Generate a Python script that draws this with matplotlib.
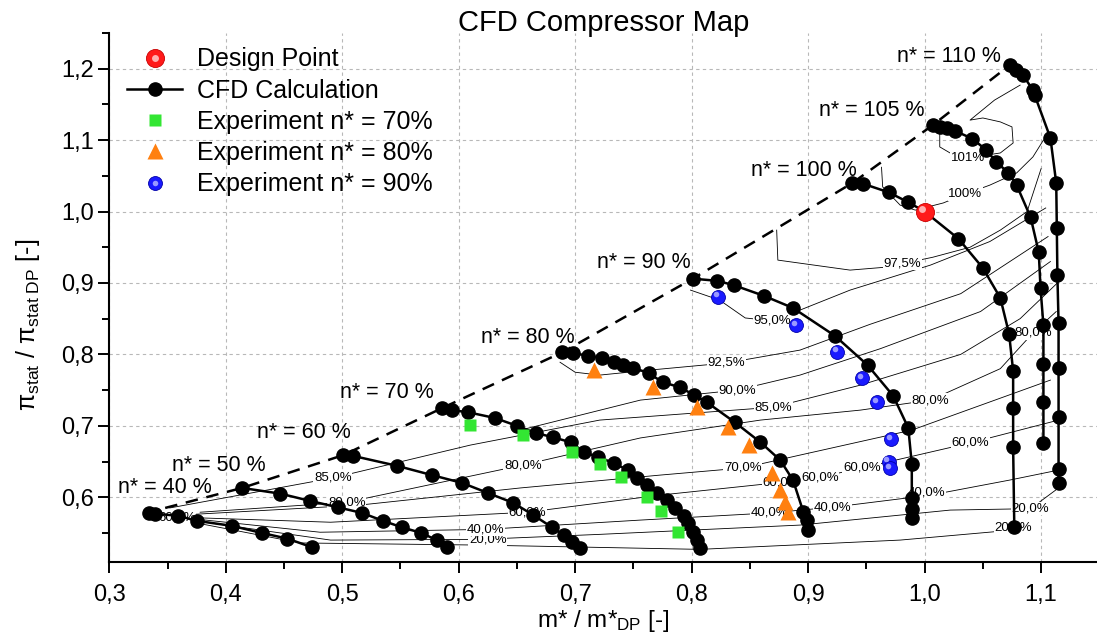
import numpy as np
import matplotlib
matplotlib.use("Agg")
import matplotlib.pyplot as plt
from matplotlib.lines import Line2D
from matplotlib.legend_handler import HandlerTuple
from matplotlib.ticker import FuncFormatter, MultipleLocator
from matplotlib.transforms import offset_copy

plt.rcParams['font.family'] = ['Liberation Sans', 'DejaVu Sans']
plt.rcParams['mathtext.fontset'] = 'custom'
plt.rcParams['mathtext.rm'] = 'Liberation Sans'
plt.rcParams['mathtext.it'] = 'Liberation Sans:italic'

# CFD speed lines (m*/m*_DP, pi/pi_DP)
m_40 = [0.334, 0.339, 0.359, 0.375, 0.405, 0.431, 0.453, 0.474]
pi_40 = [0.578, 0.577, 0.574, 0.567, 0.560, 0.550, 0.542, 0.530]
m_50 = [0.414, 0.447, 0.472, 0.496, 0.517, 0.535, 0.551, 0.568, 0.581, 0.590]
pi_50 = [0.613, 0.605, 0.595, 0.586, 0.578, 0.567, 0.558, 0.550, 0.540, 0.530]
m_60 = [0.501, 0.509, 0.547, 0.577, 0.603, 0.625, 0.647, 0.664, 0.680, 0.690, 0.697, 0.704]
pi_60 = [0.659, 0.658, 0.644, 0.631, 0.620, 0.606, 0.592, 0.575, 0.558, 0.547, 0.537, 0.529]
m_70 = [0.586, 0.594, 0.608, 0.631, 0.650, 0.666, 0.681, 0.696, 0.708, 0.720, 0.733,
        0.745, 0.753, 0.762, 0.770, 0.779, 0.786, 0.793, 0.797, 0.801, 0.805, 0.807]
pi_70 = [0.725, 0.722, 0.719, 0.711, 0.700, 0.690, 0.684, 0.677, 0.663, 0.656, 0.648,
         0.638, 0.627, 0.617, 0.606, 0.596, 0.585, 0.574, 0.564, 0.551, 0.540, 0.529]
m_80 = [0.689, 0.698, 0.711, 0.723, 0.733, 0.741, 0.750, 0.763, 0.775, 0.790, 0.802,
        0.813, 0.837, 0.859, 0.876, 0.887, 0.896, 0.899, 0.900]
pi_80 = [0.803, 0.802, 0.798, 0.795, 0.789, 0.785, 0.781, 0.774, 0.761, 0.754, 0.743,
         0.733, 0.705, 0.677, 0.652, 0.624, 0.579, 0.568, 0.554]
m_90 = [0.801, 0.822, 0.836, 0.862, 0.887, 0.923, 0.951, 0.973, 0.986, 0.989, 0.989, 0.989, 0.989]
pi_90 = [0.906, 0.903, 0.897, 0.882, 0.865, 0.826, 0.785, 0.742, 0.697, 0.6465, 0.599, 0.5835, 0.571]
m_100 = [0.938, 0.947, 0.969, 0.986, 1.000, 1.029, 1.050, 1.065, 1.0725, 1.076, 1.076, 1.076, 1.077]
pi_100 = [1.040, 1.039, 1.027, 1.013, 1.000, 0.962, 0.921, 0.879, 0.829, 0.777, 0.725, 0.670, 0.558]
m_105 = [1.007, 1.013, 1.019, 1.026, 1.041, 1.053, 1.0615, 1.072, 1.079, 1.091, 1.098,
         1.0995, 1.102, 1.102, 1.102, 1.102]
pi_105 = [1.121, 1.1185, 1.117, 1.113, 1.102, 1.086, 1.0695, 1.054, 1.037, 0.992, 0.943,
          0.893, 0.841, 0.787, 0.733, 0.676]
m_110 = [1.073, 1.0785, 1.0845, 1.093, 1.0945, 1.108, 1.113, 1.1135, 1.114, 1.115, 1.115,
         1.115, 1.115, 1.115]
pi_110 = [1.205, 1.198, 1.191, 1.170, 1.163, 1.103, 1.040, 0.977, 0.911, 0.844, 0.781,
          0.712, 0.6395, 0.620]

speed_names = ['n* = 40 %', 'n* = 50 %', 'n* = 60 %', 'n* = 70 %', 'n* = 80 %',
               'n* = 90 %', 'n* = 100 %', 'n* = 105 %', 'n* = 110 %']
speed_lab_m = [0.348, 0.394, 0.467, 0.538, 0.659, 0.759, 0.896, 0.955, 1.021]
speed_lab_pi = [0.613, 0.644, 0.691, 0.746, 0.823, 0.929, 1.058, 1.141, 1.2165]

# surge line
surge_m = [0.348, 0.414, 0.501, 0.586, 0.689, 0.801, 0.938, 1.007, 1.066]
surge_pi = [0.585, 0.613, 0.659, 0.725, 0.803, 0.906, 1.040, 1.121, 1.196]

# experiments
exp70_m = [0.610, 0.6555, 0.697, 0.721, 0.739, 0.762, 0.774, 0.788]
exp70_pi = [0.701, 0.687, 0.664, 0.6465, 0.629, 0.601, 0.581, 0.552]
exp80_m = [0.716, 0.767, 0.805, 0.8315, 0.849, 0.869, 0.876, 0.880, 0.883]
exp80_pi = [0.778, 0.755, 0.727, 0.699, 0.673, 0.6335, 0.610, 0.594, 0.580]
exp90_m = [0.823, 0.890, 0.925, 0.946, 0.9595, 0.971, 0.969, 0.970]
exp90_pi = [0.881, 0.841, 0.804, 0.767, 0.733, 0.681, 0.650, 0.641]
dp_m = [1.0]
dp_pi = [1.0]

# efficiency iso-lines
eff20a_m = [0.335, 0.464, 0.618, 0.807, 0.979, 1.076]
eff20a_pi = [0.5765, 0.536, 0.533, 0.527, 0.540, 0.554]
eff20b_m = [0.3435, 0.490, 0.618, 0.721, 0.893, 1.022, 1.091, 1.115]
eff20b_pi = [0.574, 0.540, 0.541, 0.548, 0.561, 0.582, 0.584, 0.613]
eff40_m = [0.348, 0.481, 0.623, 0.756, 0.867, 0.921, 1.005, 1.073, 1.115]
eff40_pi = [0.574, 0.551, 0.555, 0.568, 0.578, 0.586, 0.603, 0.624, 0.638]
eff60_m = [0.352, 0.490, 0.659, 0.773, 0.872, 0.910, 0.946, 1.039, 1.115]
eff60_pi = [0.5725, 0.565, 0.579, 0.603, 0.620, 0.628, 0.641, 0.676, 0.708]
eff70_m = [0.361, 0.515, 0.653, 0.773, 0.844, 0.893, 0.989, 1.108]
eff70_pi = [0.575, 0.589, 0.613, 0.631, 0.641, 0.659, 0.694, 0.764]
eff80_m = [0.378, 0.504, 0.655, 0.756, 0.859, 0.945, 1.005, 1.065, 1.093, 1.113]
eff80_pi = [0.579, 0.593, 0.645, 0.683, 0.708, 0.722, 0.736, 0.780, 0.830, 0.860]
eff85_m = [0.352, 0.492, 0.610, 0.721, 0.870, 0.945, 1.031, 1.082, 1.114]
eff85_pi = [0.585, 0.627, 0.673, 0.708, 0.726, 0.757, 0.800, 0.850, 0.900]
eff90_m = [0.653, 0.756, 0.839, 0.893, 0.962, 1.048, 1.108]
eff90_pi = [0.694, 0.736, 0.750, 0.771, 0.808, 0.860, 0.930]
eff925_m = [0.687, 0.700, 0.721, 0.764, 0.830, 0.893, 0.953, 1.031, 1.106]
eff925_pi = [0.789, 0.775, 0.771, 0.778, 0.788, 0.806, 0.842, 0.885, 0.965]
eff95_m = [0.799, 0.824, 0.846, 0.869, 0.893, 0.936, 1.005, 1.056, 1.104]
eff95_pi = [0.890, 0.876, 0.851, 0.847, 0.862, 0.890, 0.925, 0.958, 1.005]
eff975_m = [0.873, 0.874, 0.936, 0.966, 1.007, 1.039, 1.065, 1.088, 1.100]
eff975_pi = [0.974, 0.932, 0.918, 0.922, 0.936, 0.950, 0.974, 1.000, 1.060]
eff100_m = [0.963, 0.964, 0.979, 0.992, 1.016, 1.035, 1.056, 1.079, 1.093, 1.102]
eff100_pi = [1.062, 1.0345, 1.009, 1.002, 1.012, 1.0245, 1.037, 1.054, 1.0765, 1.100]
eff101_m = [1.013, 1.013, 1.025, 1.037, 1.065, 1.076, 1.075, 1.065, 1.050, 1.039, 1.060, 1.082]
eff101_pi = [1.110, 1.0905, 1.079, 1.075, 1.082, 1.096, 1.1185, 1.1255, 1.131, 1.128, 1.156, 1.177]

eff_text = ['20,0%', '40,0%', '60,0%', '80,0%', '85,0%', '80,0%', '60,0%', '92,5%',
            '90,0%', '70,0%', '95,0%', '85,0%', '60,0', '40,0%', '60,0%', '40,0%',
            '60,0%', '80,0%', '40,0%', '60,0%', '20,0%', '20,0%', '80,0%', '97,5%',
            '100%', '101%']
eff_lab_m = [0.625, 0.623, 0.659, 0.655, 0.492, 0.504, 0.358, 0.830, 0.839, 0.844,
             0.869, 0.870, 0.872, 0.867, 0.910, 0.921, 0.946, 1.005, 1.002, 1.039,
             1.091, 1.076, 1.093, 0.981, 1.035, 1.037]
eff_lab_pi = [0.541, 0.555, 0.579, 0.645, 0.627, 0.593, 0.571, 0.788, 0.750, 0.641,
              0.847, 0.726, 0.620, 0.578, 0.628, 0.586, 0.641, 0.736, 0.606, 0.676,
              0.584, 0.558, 0.830, 0.927, 1.0245, 1.075]

red, dred, lred = '#ff1a1a', '#c80000', '#ffb0b0'
blue, dblue, lblue = '#1a1aff', '#0000a8', '#9a9aff'
green = '#33e633'
orange = '#ff8010'

fig = plt.figure(figsize=(10.97, 6.33), dpi=100)
ax = fig.add_axes([0.0996, 0.1126, 0.9004, 0.8353])

ax.set_xlim(0.3, 1.148)
ax.set_ylim(0.5097, 1.25)
ax.xaxis.set_major_locator(MultipleLocator(0.1))
ax.xaxis.set_minor_locator(MultipleLocator(0.05))
ax.yaxis.set_major_locator(MultipleLocator(0.1))
ax.yaxis.set_minor_locator(MultipleLocator(0.05))
fmt = FuncFormatter(lambda v, p: f'{v:.1f}'.replace('.', ','))
ax.xaxis.set_major_formatter(fmt)
ax.yaxis.set_major_formatter(fmt)
ax.tick_params(which='major', length=8, width=1.4, direction='out', labelsize=17)
ax.tick_params(which='minor', length=5, width=1.4, direction='out')
ax.tick_params(axis='x', which='major', pad=8)
ax.tick_params(axis='y', which='major', pad=3)
for s in ['top', 'right']:
    ax.spines[s].set_visible(False)
for s in ['left', 'bottom']:
    ax.spines[s].set_linewidth(1.5)
ax.grid(True, which='major', color='#b8b8b8', lw=0.8, ls=(0, (3, 3)))
ax.set_axisbelow(True)

# efficiency lines
eff_lines = [(eff20a_m, eff20a_pi), (eff20b_m, eff20b_pi), (eff40_m, eff40_pi),
             (eff60_m, eff60_pi), (eff70_m, eff70_pi), (eff80_m, eff80_pi),
             (eff85_m, eff85_pi), (eff90_m, eff90_pi), (eff925_m, eff925_pi),
             (eff95_m, eff95_pi), (eff975_m, eff975_pi), (eff100_m, eff100_pi),
             (eff101_m, eff101_pi)]
for m, p in eff_lines:
    ax.plot(m, p, color='black', lw=0.6, zorder=1.5)
for t, m, p in zip(eff_text, eff_lab_m, eff_lab_pi):
    ax.text(m, p, t, fontsize=9.5, ha='center', va='center', zorder=2,
            bbox=dict(boxstyle='square,pad=0.05', fc='white', ec='none'))

# surge line
ax.plot(surge_m, surge_pi, color='black', lw=1.8, dashes=(5, 3.5), zorder=2.5)

# speed lines
speeds = [(m_40, pi_40), (m_50, pi_50), (m_60, pi_60), (m_70, pi_70), (m_80, pi_80),
          (m_90, pi_90), (m_100, pi_100), (m_105, pi_105), (m_110, pi_110)]
for m, p in speeds:
    ax.plot(m, p, '-o', color='black', lw=1.8, ms=9.5, zorder=3)
for t, m, p in zip(speed_names, speed_lab_m, speed_lab_pi):
    ax.text(m, p, t, fontsize=15.5, ha='center', va='center', zorder=2.6)

# experiments
ax.plot(exp70_m, exp70_pi, 's', color=green, ms=9, mec='none', zorder=4)
ax.plot(exp80_m, exp80_pi, '^', color=orange, ms=11, mec='none', zorder=4)
hl = offset_copy(ax.transData, fig=fig, x=-1.5, y=1.5, units='points')
ax.plot(exp90_m, exp90_pi, 'o', color=blue, mec=dblue, mew=0.6, ms=10, zorder=4)
ax.plot(exp90_m, exp90_pi, 'o', color=lblue, mec='none', ms=4, zorder=4.1, transform=hl)
hl2 = offset_copy(ax.transData, fig=fig, x=-2, y=2, units='points')
ax.plot(dp_m, dp_pi, 'o', color=red, mec=dred, mew=0.6, ms=13, zorder=5)
ax.plot(dp_m, dp_pi, 'o', color=lred, mec='none', ms=5, zorder=5.1, transform=hl2)

# legend
h_dp = (Line2D([], [], ls='none', marker='o', ms=13, mfc=red, mec=dred, mew=0.6),
        Line2D([], [], ls='none', marker='o', ms=5, mfc=lred, mec='none'))
h_cfd = Line2D([], [], color='black', lw=1.8, marker='o', ms=9.5)
h_70 = Line2D([], [], ls='none', marker='s', ms=9, mfc=green, mec='none')
h_80 = Line2D([], [], ls='none', marker='^', ms=11, mfc=orange, mec='none')
h_90 = (Line2D([], [], ls='none', marker='o', ms=10, mfc=blue, mec=dblue, mew=0.6),
        Line2D([], [], ls='none', marker='o', ms=4, mfc=lblue, mec='none'))
ax.legend([h_dp, h_cfd, h_70, h_80, h_90],
          ['Design Point', 'CFD Calculation', 'Experiment n* = 70%',
           'Experiment n* = 80%', 'Experiment n* = 90%'],
          handler_map={tuple: HandlerTuple(ndivide=1)},
          loc='upper left', bbox_to_anchor=(0.018, 0.973), frameon=False,
          borderpad=0, borderaxespad=0, fontsize=18, handlelength=2.2,
          handletextpad=0.6, labelspacing=0.29)

fig.text(0.5506, 0.964, 'CFD Compressor Map', ha='center', va='center', fontsize=21)
ax.set_xlabel('m* / m*$_{\\mathregular{DP}}$ [-]', fontsize=17.5)
ax.xaxis.set_label_coords(0.5, -0.088)
ax.set_ylabel('π$_{\\mathregular{stat}}$ / π$_{\\mathregular{stat\\ DP}}$ [-]', fontsize=18)
ax.yaxis.set_label_coords(-0.068, 0.447)

fig.savefig('out.png', dpi=100)
